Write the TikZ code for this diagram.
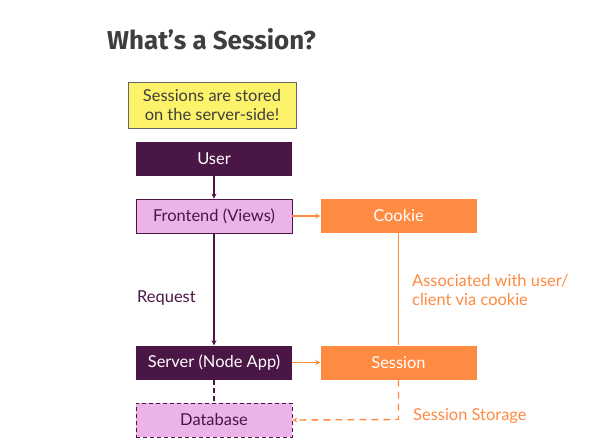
\documentclass[tikz,border=0pt]{standalone}
\usepackage{fontspec}
\usetikzlibrary{arrows.meta}
\setmainfont{Lato}
\newfontfamily\titlefont{Fira Sans}
\definecolor{plum}{HTML}{4A1646}
\definecolor{lav}{HTML}{EBB3E7}
\definecolor{orng}{HTML}{FF8A42}
\definecolor{yel}{HTML}{FCF36A}
\definecolor{txtgray}{HTML}{3E3E3E}
\tikzset{
  box/.style={minimum width=156bp, minimum height=34bp, inner sep=0pt, font=\fontsize{16.5}{19}\selectfont},
  darkbox/.style={box, fill=plum, text=white},
  lightbox/.style={box, fill=lav, draw=plum, line width=0.8pt, text=plum},
  orangebox/.style={box, fill=orng, text=white},
  plumline/.style={draw=plum, line width=1.4pt},
  orline/.style={draw=orng, line width=1.4pt},
  lbl/.style={font=\fontsize{16.5}{18.5}\selectfont, anchor=west, align=left, inner sep=0pt}
}
\begin{document}
\begin{tikzpicture}[x=1bp,y=-1bp, >={Stealth[length=5bp,width=5bp]}]
\useasboundingbox[fill=white] (0,0) rectangle (608,448);
\node[font=\titlefont\bfseries\fontsize{26}{30}\selectfont, text=txtgray, anchor=west, inner sep=0pt] (title) at (107,39) {What’s a Session?};
\node[fill=yel, draw=txtgray!80, line width=0.8pt, minimum width=168bp, minimum height=46bp, inner sep=0pt, align=center, text=txtgray, font=\fontsize{16.5}{19}\selectfont] (note) at (212,105) {Sessions are stored\\on the server-side!};
\node[darkbox] (user) at (214,159) {User};
\node[lightbox] (front) at (214,216) {Frontend (Views)};
\node[orangebox] (cookie) at (398.5,216) {Cookie};
\node[darkbox] (server) at (214,362.5) {Server (Node App)};
\node[orangebox] (session) at (398.5,362.5) {Session};
\node[lightbox, dashed, dash pattern=on 4bp off 3bp] (db) at (214,420) {Database};
\draw[plumline, ->] (user) -- (front);
\draw[plumline, ->] (front) -- (server);
\draw[plumline, dashed, dash pattern=on 5bp off 3bp] (server) -- (db);
\draw[orline, ->] (front) -- (cookie);
\draw[orline, ->] (server) -- (session);
\draw[orline] (cookie) -- (session);
\coordinate (corner) at (398.5,419.5);
\draw[orline, dashed, dash pattern=on 7bp off 5bp, ->] (session.south) -- (corner) -- (db.east);
\node[lbl, text=plum] (req) at (137,298) {Request};
\node[lbl, text=orng] (assoc) at (412,290) {Associated with user/\\client via cookie};
\node[lbl, text=orng] (stor) at (413,416) {Session Storage};
\end{tikzpicture}
\end{document}
